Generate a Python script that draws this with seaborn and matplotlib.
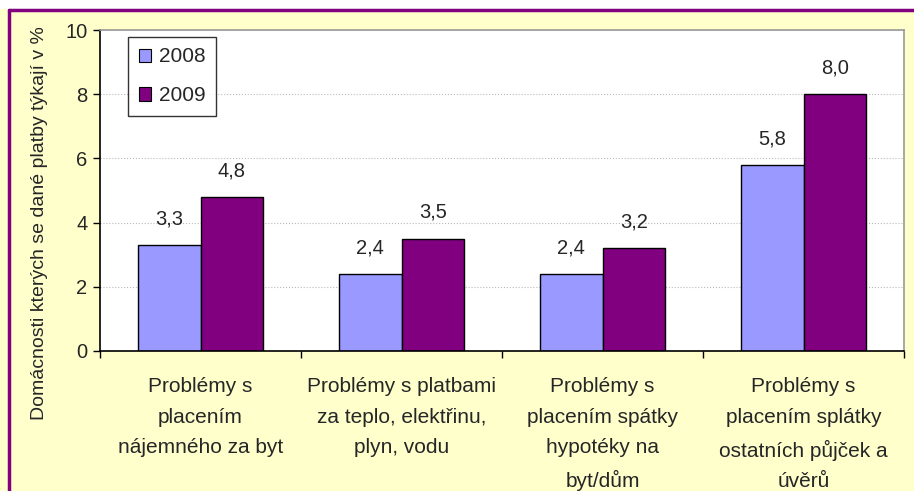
import pandas as pd
import numpy as np
import matplotlib.pyplot as plt
import seaborn as sns
from matplotlib.lines import Line2D

categories = ['Problémy s\nplacením\nnájemného za byt',
              'Problémy s platbami\nza teplo, elektřinu,\nplyn, vodu',
              'Problémy s\nplacením spátky\nhypotéky na\nbyt/dům',
              'Problémy s\nplacením splátky\nostatních půjček a\núvěrů']
years = ['2008', '2009']
values_2008 = [3.3, 2.4, 2.4, 5.8]
values_2009 = [4.8, 3.5, 3.2, 8.0]
colors = ['#9999FF', '#800080']

df = pd.DataFrame({
    'kategorie': categories * 2,
    'rok': [years[0]] * 4 + [years[1]] * 4,
    'hodnota': values_2008 + values_2009,
})

sns.set_style('white')
plt.rcParams['font.family'] = ['Liberation Sans', 'DejaVu Sans']

fig = plt.figure(figsize=(9.14, 4.91), dpi=100, facecolor='#FFFFCC')
ax = fig.add_axes([100 / 914, 1 - 351 / 491, 804 / 914, 321 / 491])
ax.set_facecolor('white')

sns.barplot(data=df, x='kategorie', y='hodnota', hue='rok', palette=colors,
            width=0.62, edgecolor='black', linewidth=1, saturation=1, ax=ax)

for cont in ax.containers:
    ax.bar_label(cont, labels=[f'{v:.1f}'.replace('.', ',') for v in cont.datavalues],
                 padding=12, fontsize=14.5)

ax.set_ylim(0, 10)
ax.set_xlim(-0.5, 3.5)
ax.set_yticks([0, 2, 4, 6, 8, 10])
ax.tick_params(axis='y', labelsize=14.5, length=5, width=1, direction='out', left=True,
               color='black', pad=4)
ax.set_xticks(range(4))
ax.set_xticklabels(categories, fontsize=15)
ax.tick_params(axis='x', which='major', length=0, pad=19)
ax.set_xticks([-0.5, 0.5, 1.5, 2.5, 3.5], minor=True)
ax.tick_params(axis='x', which='minor', length=5, width=1, direction='out', bottom=True, color='black')
for lab in ax.get_xticklabels():
    lab.set_linespacing(1.76)
ax.yaxis.grid(True, color='#BBBBBB', linewidth=0.8, linestyle=':')
ax.set_axisbelow(True)
ax.set_xlabel('')
ax.set_ylabel('Domácnosti kterých se dané platby týkají v %', fontsize=14)
ax.yaxis.set_label_coords(-0.065, 0.40)

for s in ['left', 'bottom']:
    ax.spines[s].set_color('black')
    ax.spines[s].set_linewidth(1.2)
for s in ['top', 'right']:
    ax.spines[s].set_color('#999999')
    ax.spines[s].set_linewidth(1.2)

handles = [plt.Rectangle((0, 0), 1, 1, facecolor=c, edgecolor='black', linewidth=0.8) for c in colors]
leg = ax.legend(handles, years, loc='upper left', bbox_to_anchor=(0.035, 0.978), fontsize=15,
                frameon=True, fancybox=False, edgecolor='black', handlelength=0.6, handleheight=0.6,
                handletextpad=0.4, labelspacing=0.95, borderpad=0.5, borderaxespad=0)
leg.get_frame().set_linewidth(1)

# purple border of the chart area (top and left)
fig.add_artist(Line2D([9 / 914, 1], [1 - 10 / 491, 1 - 10 / 491], color='#800080', linewidth=2.5))
fig.add_artist(Line2D([9 / 914, 9 / 914], [0, 1 - 10 / 491], color='#800080', linewidth=2.5))
fig.patches.append(plt.Rectangle((0, 1 - 9 / 491), 1, 9 / 491, transform=fig.transFigure,
                                 facecolor='white', edgecolor='none', zorder=-1))

fig.savefig('out.png', dpi=100, facecolor=fig.get_facecolor())
